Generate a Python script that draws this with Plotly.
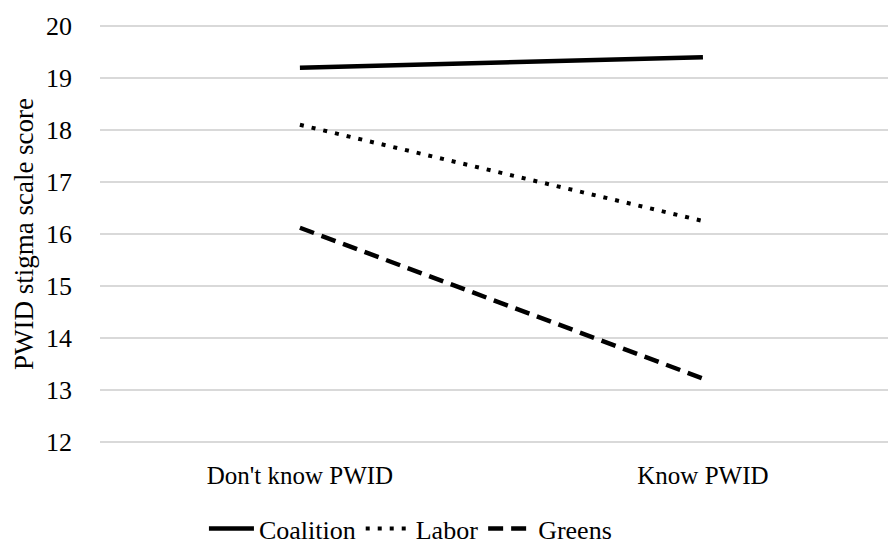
import plotly.graph_objects as go

categories = ["Don't know PWID", "Know PWID"]
coalition = [19.2, 19.4]
labor = [18.1, 16.25]
greens = [16.12, 13.22]
series_names = ["Coalition", "Labor", "Greens"]

FONT = "'Times New Roman', 'Liberation Serif', serif"

fig = go.Figure()
fig.add_trace(go.Scatter(x=categories, y=coalition, name=series_names[0], mode="lines",
                         line=dict(color="black", width=4.5, dash="solid")))
fig.add_trace(go.Scatter(x=categories, y=labor, name=series_names[1], mode="lines",
                         line=dict(color="black", width=4, dash="4px,8px")))
fig.add_trace(go.Scatter(x=categories, y=greens, name=series_names[2], mode="lines",
                         line=dict(color="black", width=4.5, dash="15px,8px")))

fig.update_layout(
    width=888, height=536,
    margin=dict(l=92, r=0, t=17, b=101, autoexpand=False),
    plot_bgcolor="white", paper_bgcolor="white",
    font=dict(family=FONT, size=26, color="black"),
    showlegend=True,
    legend=dict(orientation="h", x=0.39, xanchor="center", y=-0.205, yanchor="middle",
                font=dict(family=FONT, size=26), tracegroupgap=0, itemwidth=45,
                bgcolor="rgba(0,0,0,0)"),
    xaxis=dict(type="category", range=[-0.496, 1.479], showgrid=False, showline=False,
               zeroline=False, ticks="", ticklabelstandoff=15,
               tickfont=dict(family=FONT, size=25)),
    yaxis=dict(range=[11.98, 20.02], dtick=1, tick0=12, showgrid=True, gridcolor="#d9d9d9",
               gridwidth=1.5, showline=False, zeroline=False, ticks="",
               ticklabelstandoff=27, tickfont=dict(family=FONT, size=26),
               title=dict(text="PWID stigma scale score", font=dict(family=FONT, size=27),
                          standoff=4)),
)

fig.write_html("out.html")
